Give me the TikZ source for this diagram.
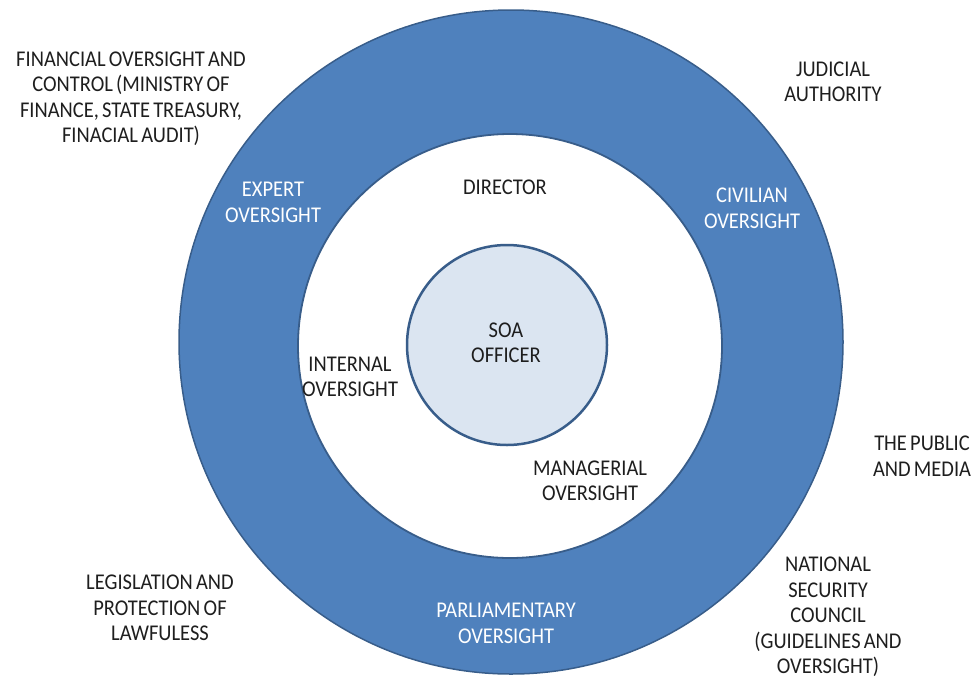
\documentclass[tikz,border=0pt]{standalone}
\usepackage{fontspec}
\setmainfont{Carlito}[FakeStretch=0.91, WordSpace=0.7]
\definecolor{ringblue}{HTML}{4F81BD}
\definecolor{edgeblue}{HTML}{385D8A}
\definecolor{corefill}{HTML}{DBE5F1}
\definecolor{labelgray}{HTML}{1E1E1E}
\tikzset{
  outside/.style={align=center, text=labelgray, font=\fontsize{22.5}{25.5}\selectfont},
  inring/.style={align=center, text=white, font=\fontsize{22.5}{26}\selectfont},
}
\begin{document}
\begin{tikzpicture}[x=1pt, y=-1pt]

    \def\outerring{(511,342) circle (332pt)}
    \def\innerdisc{(510,346) circle (212pt)}
    \def\core{(507,345) circle (100pt)}

    \useasboundingbox (0,0) rectangle (977,678);

    %draw circles:
    \filldraw[fill=ringblue, draw=edgeblue, line width=1.5pt] \outerring;
    \filldraw[fill=white, draw=edgeblue, line width=1.8pt] \innerdisc;
    \filldraw[fill=corefill, draw=edgeblue, line width=2.5pt] \core;

    %labels inside:
    \node[outside] (officer) at (506,343) {SOA\\OFFICER};
    \node[outside] (director) at (505,187) {DIRECTOR};
    \node[outside] (internal) at (350,377) {INTERNAL\\OVERSIGHT};
    \node[outside] (managerial) at (590,481) {MANAGERIAL\\OVERSIGHT};

    %labels on the ring:
    \node[inring] (expert) at (273,202) {EXPERT\\OVERSIGHT};
    \node[inring] (civilian) at (752,208) {CIVILIAN\\OVERSIGHT};
    \node[inring] (parliament) at (506,623) {PARLIAMENTARY\\OVERSIGHT};

    %labels outside:
    \node[outside] (finance) at (131,99) {FINANCIAL OVERSIGHT AND\\CONTROL (MINISTRY OF\\FINANCE, STATE TREASURY,\\FINACIAL AUDIT)};
    \node[outside] (judicial) at (833,82) {JUDICIAL\\AUTHORITY};
    \node[outside] (public) at (922,456) {THE PUBLIC\\AND MEDIA};
    \node[outside] (council) at (828,617) {NATIONAL\\SECURITY\\COUNCIL\\(GUIDELINES AND\\OVERSIGHT)};
    \node[outside] (legislation) at (160,608) {LEGISLATION AND\\PROTECTION OF\\LAWFULESS};

\end{tikzpicture}
\end{document}
